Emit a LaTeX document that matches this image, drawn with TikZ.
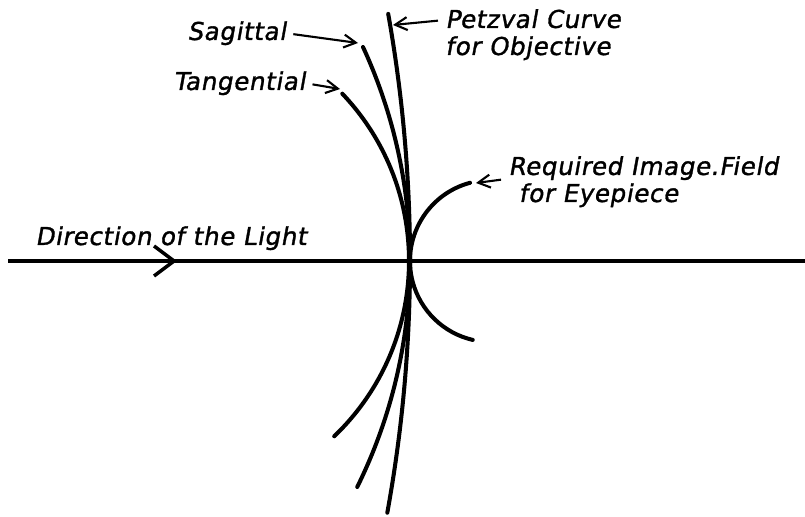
\documentclass[tikz,border=0pt]{standalone}
\usepackage{fontspec}
\newfontfamily\lettering{DejaVu Sans}[FakeBold=1.3,FakeSlant=0.18,LetterSpace=2.5]
\usetikzlibrary{arrows.meta,decorations.markings}

\begin{document}
\begin{tikzpicture}[x=0.02cm,y=0.02cm,
 font=\fontsize{14}{15.4}\lettering,
 curve/.style={line width=2.3pt,line cap=round},
 axis/.style={line width=2pt},
 lead/.style={line width=1.2pt,shorten <=4pt,-{Straight Barb[length=2.4mm,width=2.6mm,line width=1.2pt]}},
 lab/.style={inner sep=0pt,anchor=base west,align=left}]
\useasboundingbox (0,0) rectangle (805,517);
% optical axis with the light arrow
\coordinate (axl) at (8,256);
\coordinate (axr) at (805,256);
\draw[axis,postaction={decorate},decoration={markings,
 mark=at position 0.212 with {\arrow{Straight Barb[length=4mm,width=6mm,line width=2pt]}}}] (axl) -- (axr);
% field curves, all tangent to each other on the axis
\draw[curve] (388.2,503.1) arc[start angle=10.1,end angle=-10.3,radius=28.18cm]; % Petzval
\draw[curve] (363,470) arc[start angle=24.76,end angle=-26.26,radius=10.22cm]; % sagittal
\draw[curve] (342.3,423.3) arc[start angle=43.5,end angle=-46.2,radius=4.86cm]; % tangential
\draw[curve] (470,334.2) arc[start angle=105,end angle=257,radius=1.62cm]; % eyepiece field
% labels (base = last line)
\node[lab] (dir) at (35,272) {Direction of the Light};
\node[lab] (sag) at (187,477) {Sagittal};
\node[lab] (tan) at (173,427) {Tangential};
\node[lab] (petz) at (445,462) {Petzval Curve\\for Objective};
\node[lab] (req) at (508,315) {Required Image.Field\\\hspace*{6pt}for Eyepiece};
\coordinate (sagtip) at (358,474);
\coordinate (tantip) at (340,428);
\coordinate (petztip) at (393,492);
\coordinate (reqtip) at (476,334);
\draw[lead] (sag.east) -- (sagtip);
\draw[lead] (tan.east) -- (tantip);
\draw[lead] ([yshift=-6.3pt]petz.north west) -- (petztip);
\draw[lead] ([yshift=-13pt]req.north west) -- (reqtip);
\end{tikzpicture}
\end{document}
